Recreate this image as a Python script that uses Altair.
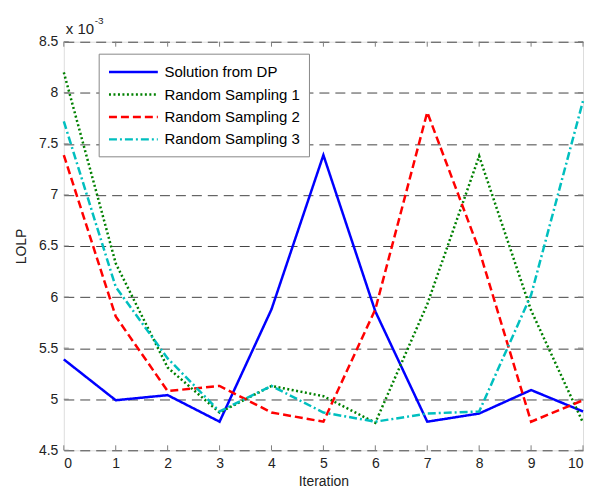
import altair as alt
import pandas as pd

iterations = [0, 1, 2, 3, 4, 5, 6, 7, 8, 9, 10]
series_names = ["Solution from DP", "Random Sampling 1", "Random Sampling 2", "Random Sampling 3"]
# LOLP values in units of 1e-3
dp = [5.39, 4.99, 5.04, 4.78, 5.88, 7.39, 5.86, 4.78, 4.86, 5.09, 4.88]
rs1 = [8.20, 6.33, 5.31, 4.87, 5.13, 5.03, 4.77, 5.93, 7.38, 5.87, 4.77]
rs2 = [7.39, 5.81, 5.08, 5.13, 4.87, 4.78, 5.88, 7.81, 6.46, 4.78, 4.99]
rs3 = [7.72, 6.10, 5.40, 4.88, 5.13, 4.87, 4.78, 4.86, 4.88, 6.02, 7.92]
y_ticks = [4.5, 5, 5.5, 6, 6.5, 7, 7.5, 8, 8.5]

colors = ["#0000ff", "#008000", "#ff0000", "#00bfbf"]
dashes = [[1, 0], [2, 2.5], [8, 4], [8, 3, 2, 3]]

rows = []
for name, vals in zip(series_names, [dp, rs1, rs2, rs3]):
    for it, v in zip(iterations, vals):
        rows.append({"Iteration": it, "LOLP": v, "series": name})
df = pd.DataFrame(rows)
xt = pd.DataFrame({"t": iterations})
yt = pd.DataFrame({"t": y_ticks})

FONT = "Liberation Sans"
W, H = 521, 410

xscale = alt.Scale(domain=[0, 10], nice=False)
yscale = alt.Scale(domain=[4.5, 8.5], nice=False)

leg = alt.Legend(
    orient="none", legendX=35, legendY=12, title=None,
    symbolType="M-1,0H5", symbolSize=267, symbolStrokeWidth=2.5,
    symbolFillColor="transparent",
    labelFontSize=15, labelFont=FONT, labelColor="#000",
    fillColor="white", strokeColor="#888", padding=9, rowPadding=4.5,
    labelOffset=38, symbolOpacity=1,
)

lines = alt.Chart(df).mark_line(strokeWidth=2.5).encode(
    x=alt.X("Iteration:Q", scale=xscale,
            axis=alt.Axis(values=iterations, title="Iteration", grid=False, domain=False,
                          tickSize=0, labelPadding=6, labelFontSize=14, labelFont=FONT,
                          labelColor="#222", titleFont=FONT, titleFontSize=14,
                          titleFontWeight="normal", titleColor="#222", titlePadding=4)),
    y=alt.Y("LOLP:Q", scale=yscale,
            axis=alt.Axis(values=y_ticks, format="~g", title="LOLP", grid=True,
                          gridDash=[10, 6], gridColor="#444", gridWidth=1, domain=False,
                          tickSize=0, labelPadding=6, labelFontSize=14, labelFont=FONT,
                          labelColor="#222", titleFont=FONT, titleFontSize=14,
                          titleFontWeight="normal", titleColor="#222", titlePadding=10)),
    color=alt.Color("series:N", scale=alt.Scale(domain=series_names, range=colors), legend=leg),
    strokeDash=alt.StrokeDash("series:N", scale=alt.Scale(domain=series_names, range=dashes), legend=leg),
    order=alt.Order("Iteration:Q"),
)

tick_col = "#808080"
xb = alt.Chart(xt).mark_rule(color=tick_col, strokeWidth=1).encode(
    x=alt.X("t:Q", scale=xscale), y=alt.value(H), y2=alt.value(H - 5))
xtop = alt.Chart(xt).mark_rule(color=tick_col, strokeWidth=1).encode(
    x=alt.X("t:Q", scale=xscale), y=alt.value(0), y2=alt.value(5))
yl = alt.Chart(yt).mark_rule(color=tick_col, strokeWidth=1).encode(
    y=alt.Y("t:Q", scale=yscale), x=alt.value(0), x2=alt.value(5))
yr = alt.Chart(yt).mark_rule(color=tick_col, strokeWidth=1).encode(
    y=alt.Y("t:Q", scale=yscale), x=alt.value(W), x2=alt.value(W - 5))

exp_base = alt.Chart(pd.DataFrame({"s": ["x 10"]})).mark_text(
    align="left", baseline="alphabetic", font=FONT, fontSize=15, color="#222").encode(
    text="s:N", x=alt.value(2), y=alt.value(-8))
exp_sup = alt.Chart(pd.DataFrame({"s": ["-3"]})).mark_text(
    align="left", baseline="alphabetic", font=FONT, fontSize=10, color="#222").encode(
    text="s:N", x=alt.value(31), y=alt.value(-18))

chart = alt.layer(lines, xb, xtop, yl, yr, exp_base, exp_sup).properties(
    width=W, height=H,
    autosize=alt.AutoSizeParams(type="none"),
    padding={"left": 56, "top": 33, "right": 2, "bottom": 38},
).configure_view(stroke="#8c8c8c", strokeWidth=1.5).configure(background="white")

chart.save("out.html", embed_options={"renderer": "svg", "actions": False})
